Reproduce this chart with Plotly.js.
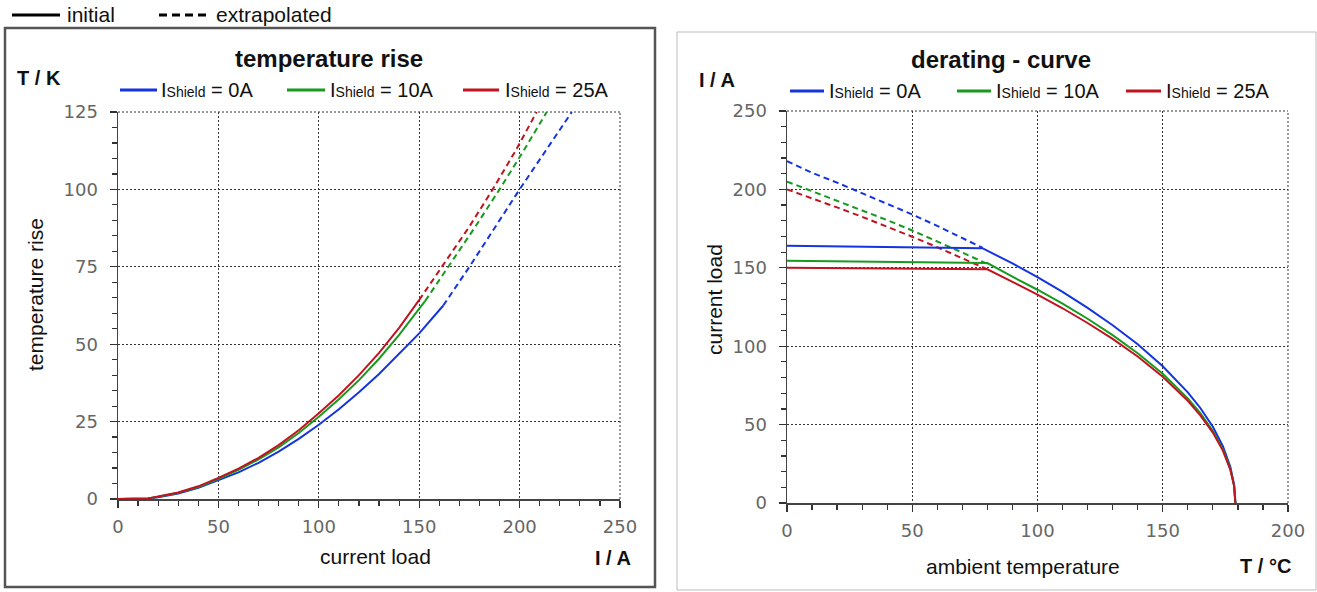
<!DOCTYPE html>
<html>
<head>
<meta charset="utf-8">
<script src="https://cdn.plot.ly/plotly-3.0.1.min.js"></script>
<style>html,body{margin:0;padding:0;background:#fff;}#chart{width:1317px;height:592px;}</style>
</head>
<body>
<div id="chart"></div>
<script>
// ---------- data: temperature rise (left) ----------
const riseInitX_0A  = [0,10,15,20,30,40,50,60,70,80,90,100,110,120,130,140,150,162];
const riseInitY_0A  = [0,0,0.2,0.6,1.8,3.6,6.0,8.6,11.7,15.3,19.4,24.0,29.0,34.5,40.4,46.8,53.5,62.5];
const riseExtX_0A   = [162,175,190,200,213,226];
const riseExtY_0A   = [62.5,75,90,100,112.5,125];

const riseInitX_10A = [0,10,15,20,30,40,50,60,70,80,90,100,110,120,130,140,150,153];
const riseInitY_10A = [0,0,0.2,0.7,2.0,3.9,6.5,9.4,12.8,16.7,21.3,26.6,32.2,38.4,45.3,53.0,61.6,64];
const riseExtX_10A  = [153,165,178,190,202,213.5];
const riseExtY_10A  = [64,75.5,88,100,112.5,125];

const riseInitX_25A = [0,10,15,20,30,40,50,60,70,80,90,100,110,120,130,140,150];
const riseInitY_25A = [0,0,0.2,0.8,2.1,4.1,6.8,9.8,13.3,17.4,22.2,27.7,33.5,40.0,47.2,55.3,64.3];
const riseExtX_25A  = [150,162,175,186.6,198,208.5];
const riseExtY_25A  = [64.3,75.5,88,100,112.5,125];

// ---------- data: derating curve (right) ----------
const derInitX_0A  = [0,78,90,100,110,120,130,140,150,160,165,170,174,177,178.5,179];
const derInitY_0A  = [164,162.5,152.8,144.0,134.6,124.4,113.4,101.2,87.2,70.6,60.6,48.6,36.2,22.9,11.5,0];
const derExtX_0A   = [0,10,20,30,40,50,60,70,78];
const derExtY_0A   = [218,210.6,204.3,197.7,191.0,184.0,176.7,169.1,162.8];

const derInitX_10A = [0,80,90,100,110,120,130,140,150,160,165,170,174,177,178.5,179];
const derInitY_10A = [154.5,153,144.3,136.0,127.1,117.5,107.1,95.5,82.4,66.7,57.3,45.9,34.2,21.6,10.8,0];
const derExtX_10A  = [0,10,20,30,40,50,60,70,80];
const derExtY_10A  = [205,198.9,192.9,186.8,180.4,173.8,166.9,159.7,152.5];

const derInitX_25A = [0,80,90,100,110,120,130,140,150,160,165,170,174,177,178.5,179];
const derInitY_25A = [150,149,141.0,132.9,124.2,114.8,104.7,93.4,80.5,65.2,55.9,44.9,33.4,21.1,10.6,0];
const derExtX_25A  = [0,10,20,30,40,50,60,70,80];
const derExtY_25A  = [200,194.4,188.5,182.5,176.3,169.8,163.1,156.1,149];

const seriesNames = ['I<span style="font-size:14px">Shield</span> = 0A',
                     'I<span style="font-size:14px">Shield</span> = 10A',
                     'I<span style="font-size:14px">Shield</span> = 25A'];
const seriesColors = ['#1434e0', '#189a1e', '#c01420'];

// ---------- layout helpers ----------
const W = 1317, H = 592;
const px = v => v / W;
const py = v => 1 - v / H;
const DASH = '6px,4px';
const GRIDDASH = '2px,2px';

function tr(x, y, color, dashed, xa, ya) {
  return {x: x, y: y, type: 'scatter', mode: 'lines', xaxis: xa, yaxis: ya,
          line: {color: color, width: 2, dash: dashed ? DASH : 'solid'},
          showlegend: false, hoverinfo: 'skip'};
}

const data = [
  tr(riseExtX_0A,  riseExtY_0A,  seriesColors[0], true,  'x', 'y'),
  tr(riseExtX_10A, riseExtY_10A, seriesColors[1], true,  'x', 'y'),
  tr(riseExtX_25A, riseExtY_25A, seriesColors[2], true,  'x', 'y'),
  tr(riseInitX_0A,  riseInitY_0A,  seriesColors[0], false, 'x', 'y'),
  tr(riseInitX_10A, riseInitY_10A, seriesColors[1], false, 'x', 'y'),
  tr(riseInitX_25A, riseInitY_25A, seriesColors[2], false, 'x', 'y'),
  tr(derExtX_0A,  derExtY_0A,  seriesColors[0], true,  'x2', 'y2'),
  tr(derExtX_10A, derExtY_10A, seriesColors[1], true,  'x2', 'y2'),
  tr(derExtX_25A, derExtY_25A, seriesColors[2], true,  'x2', 'y2'),
  tr(derInitX_0A,  derInitY_0A,  seriesColors[0], false, 'x2', 'y2'),
  tr(derInitX_10A, derInitY_10A, seriesColors[1], false, 'x2', 'y2'),
  tr(derInitX_25A, derInitY_25A, seriesColors[2], false, 'x2', 'y2')
];

const tickFont = {family: 'DejaVu Sans', size: 18, color: '#666'};
function axis(domain, range, dtick, minorDtick, anchor, isY) {
  return {
    domain: domain, range: range, anchor: anchor, dtick: dtick, tick0: 0,
    ticks: 'outside', ticklen: 7, tickwidth: 1.2, tickcolor: '#333',
    showline: true, linecolor: '#444', linewidth: 1.5,
    showgrid: true, gridcolor: '#333', gridwidth: 1, griddash: GRIDDASH,
    zeroline: false, tickfont: tickFont, fixedrange: true,
    ticklabelstandoff: isY ? 8 : 4,
    minor: {dtick: minorDtick, tick0: 0, ticks: 'outside', ticklen: 5, tickwidth: 1.2, tickcolor: '#333', showgrid: false}
  };
}

const txtFont = {family: 'Liberation Sans, Arial, sans-serif', color: '#111'};
function ann(text, x, y, size, opts) {
  return Object.assign({text: text, xref: 'paper', yref: 'paper', x: px(x), y: py(y),
    showarrow: false, xanchor: 'center', yanchor: 'middle',
    font: Object.assign({}, txtFont, {size: size})}, opts || {});
}

const annotations = [
  ann('initial', 65, 15, 21, {xanchor: 'left'}),
  ann('extrapolated', 214, 15, 21, {xanchor: 'left'}),
  ann('<b>temperature rise</b>', 329, 58, 24),
  ann('<b>T / K</b>', 15, 78, 20, {xanchor: 'left'}),
  ann(seriesNames[0], 159, 90, 20, {xanchor: 'left'}),
  ann(seriesNames[1], 328, 90, 20, {xanchor: 'left'}),
  ann(seriesNames[2], 503, 90, 20, {xanchor: 'left'}),
  ann('current load', 376, 556, 21),
  ann('<b>I / A</b>', 633, 558, 20, {xanchor: 'right'}),
  ann('temperature rise', 36, 295, 21, {textangle: -90}),
  ann('<b>derating - curve</b>', 1001, 60, 24),
  ann('<b>I / A</b>', 697, 80, 20, {xanchor: 'left'}),
  ann(seriesNames[0], 827, 91, 20, {xanchor: 'left'}),
  ann(seriesNames[1], 994, 91, 20, {xanchor: 'left'}),
  ann(seriesNames[2], 1164, 91, 20, {xanchor: 'left'}),
  ann('ambient temperature', 1023, 566, 21),
  ann('<b>T / °C</b>', 1293, 566, 20, {xanchor: 'right'}),
  ann('current load', 714, 300, 21, {textangle: -90})
];

function hline(x0, x1, y, color, width, dash) {
  return {type: 'line', xref: 'paper', yref: 'paper', x0: px(x0), x1: px(x1), y0: py(y), y1: py(y),
          line: {color: color, width: width, dash: dash || 'solid'}};
}
// dotted frame edges on the top and right of each plot area
function edges(xd, yd) {
  const ln = {color: '#333', width: 1, dash: GRIDDASH};
  return [
    {type: 'line', xref: xd, yref: yd, x0: 0, x1: 1, y0: 1, y1: 1, line: ln, layer: 'below'},
    {type: 'line', xref: xd, yref: yd, x0: 1, x1: 1, y0: 0, y1: 1, line: ln, layer: 'below'}
  ];
}
const shapes = [
  {type: 'rect', xref: 'paper', yref: 'paper', x0: px(5), x1: px(655), y0: py(587), y1: py(28),
   line: {color: '#555', width: 2.5}, fillcolor: 'rgba(0,0,0,0)', layer: 'below'},
  {type: 'rect', xref: 'paper', yref: 'paper', x0: px(677), x1: px(1316), y0: py(590), y1: py(32),
   line: {color: '#bbb', width: 1}, fillcolor: 'rgba(0,0,0,0)', layer: 'below'},
  hline(12, 60, 15, '#000', 3),
  hline(159, 208, 15, '#000', 3, '8px,5px'),
  hline(120, 157, 90, seriesColors[0], 3),
  hline(287, 325, 90, seriesColors[1], 3),
  hline(463, 499, 90, seriesColors[2], 3),
  hline(790, 824, 91, seriesColors[0], 3),
  hline(957, 991, 91, seriesColors[1], 3),
  hline(1126, 1161, 91, seriesColors[2], 3)
].concat(edges('x domain', 'y domain'), edges('x2 domain', 'y2 domain'));

const layout = {
  width: W, height: H, margin: {l: 0, r: 0, t: 0, b: 0},
  paper_bgcolor: '#fff', plot_bgcolor: 'rgba(0,0,0,0)', showlegend: false,
  xaxis:  axis([px(118), px(620)], [0, 250], 50, 10, 'y', false),
  yaxis:  axis([py(499), py(112)], [0, 125], 25, 5, 'x', true),
  xaxis2: axis([px(787), px(1288)], [0, 200], 50, 10, 'y2', false),
  yaxis2: axis([py(503), py(111)], [0, 250], 50, 10, 'x2', true),
  annotations: annotations, shapes: shapes
};

Plotly.newPlot('chart', data, layout, {staticPlot: true, displayModeBar: false});
</script>
</body>
</html>
